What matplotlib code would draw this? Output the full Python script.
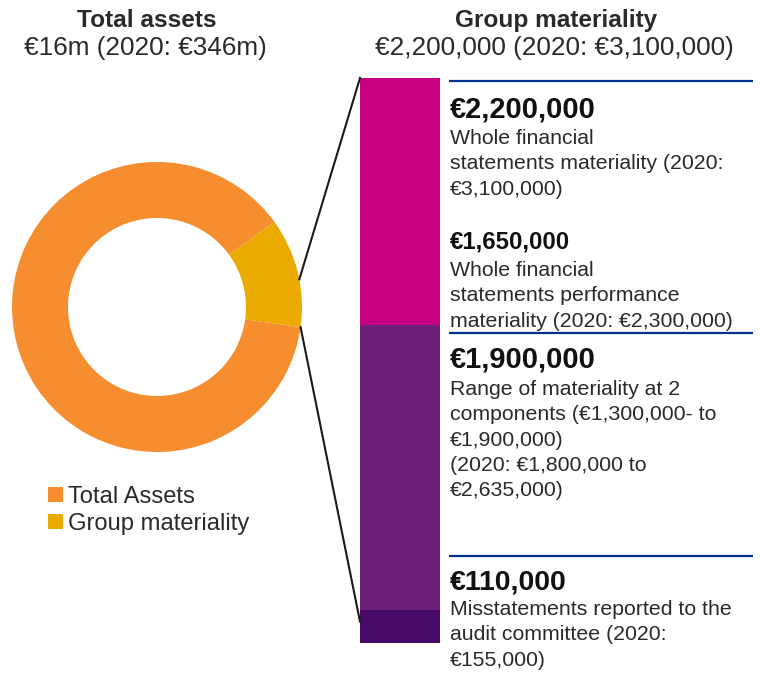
import numpy as np
import matplotlib
matplotlib.use('Agg')
import matplotlib.pyplot as plt

plt.rcParams['font.family'] = ['Liberation Sans', 'DejaVu Sans']

# Daten
donut_labels = ['Total Assets', 'Group materiality']
donut_share = [87.8, 12.2]          # Anteil am Ring in %
donut_colors = ['#F68D2E', '#EAAA00']

# Balkensegmente von oben nach unten (Balkeneinheiten)
bar_segments = ['Whole financial statements', 'Components', 'Misstatements']
bar_heights = [247, 285, 33]
bar_colors = ['#C6007E', '#6D2077', '#470A68']

titles = ['Total assets', 'Group materiality']
subtitles = ['€16m (2020: €346m)', '€2,200,000 (2020: €3,100,000)']

amounts = ['€2,200,000', '€1,650,000', '€1,900,000', '€110,000']
notes = [
    ['Whole financial', 'statements materiality (2020:', '€3,100,000)'],
    ['Whole financial', 'statements performance', 'materiality (2020: €2,300,000)'],
    ['Range of materiality at 2', 'components (€1,300,000- to', '€1,900,000)',
     '(2020: €1,800,000 to', '€2,635,000)'],
    ['Misstatements reported to the', 'audit committee (2020:', '€155,000)'],
]

TXT = '#2A2A2A'
NAVY = '#00338D'

fig = plt.figure(figsize=(7.6, 6.75), dpi=100)
ax = fig.add_axes([0, 0, 1, 1])

# Donut (y-Achse invertiert -> Winkel gespiegelt)
cx, cy, r_out, ring = 157, 307, 145, 56
wedges, _ = ax.pie(donut_share, colors=donut_colors, startangle=8,
                   center=(cx, cy), radius=r_out,
                   wedgeprops=dict(width=ring, linewidth=0))

# Gestapelter Balken
bx, bw, btop = 400, 80, 78
bottoms = btop + np.concatenate([[0], np.cumsum(bar_heights)[:-1]])
ax.bar(bx, bar_heights, bottom=bottoms, width=bw, color=bar_colors, linewidth=0)

ax.set_xlim(0, 760)
ax.set_ylim(675, 0)
ax.set_aspect('equal')
ax.axis('off')

# Verbindungslinien vom Ring zum Balken
def ring_point(deg):
    a = np.deg2rad(deg)
    return cx + r_out * np.cos(a), cy - r_out * np.sin(a)

gold_start = -wedges[1].theta2   # sichtbarer Winkel
x0, y0 = ring_point(11)
ax.plot([x0, bx - bw / 2], [y0, btop], color='#1a1a1a', lw=1.5)
x1, y1 = ring_point(gold_start)
ax.plot([x1, bx - bw / 2], [y1, bottoms[-1] + bar_heights[-1] * 0.35], color='#1a1a1a', lw=1.5)

# Trennlinien
ax.hlines([81, 333, 556], 449, 753, color=NAVY, lw=1.6)

# Titel
for x, t, s in zip([147, 556], titles, subtitles):
    ax.text(x, 27, t, ha='center', va='baseline', fontsize=17.6, fontweight='bold', color=TXT)
    ax.text(x - 2, 55, s, ha='center', va='baseline', fontsize=18.8, color=TXT)

# Textbloecke rechts
amount_sizes = [21, 17.3, 21, 20.5]
amount_base = [118, 249, 368, 590]
note_base = [144, 276, 395, 615]
for a, fs, ab, lines, nb in zip(amounts, amount_sizes, amount_base, notes, note_base):
    ax.text(450, ab, a, ha='left', va='baseline', fontsize=fs, fontweight='bold', color='#111111')
    for i, ln in enumerate(lines):
        ax.text(450, nb + i * 25.3, ln, ha='left', va='baseline', fontsize=15.3, color=TXT)

# Legende
ax.legend(wedges, donut_labels, loc='upper left', bbox_to_anchor=(0.051, 0.294),
          frameon=False, fontsize=17.1, handlelength=0.6, handleheight=0.6,
          handletextpad=0.25, labelspacing=0.2, borderaxespad=0, labelcolor=TXT)

fig.savefig('out.png', dpi=100)
